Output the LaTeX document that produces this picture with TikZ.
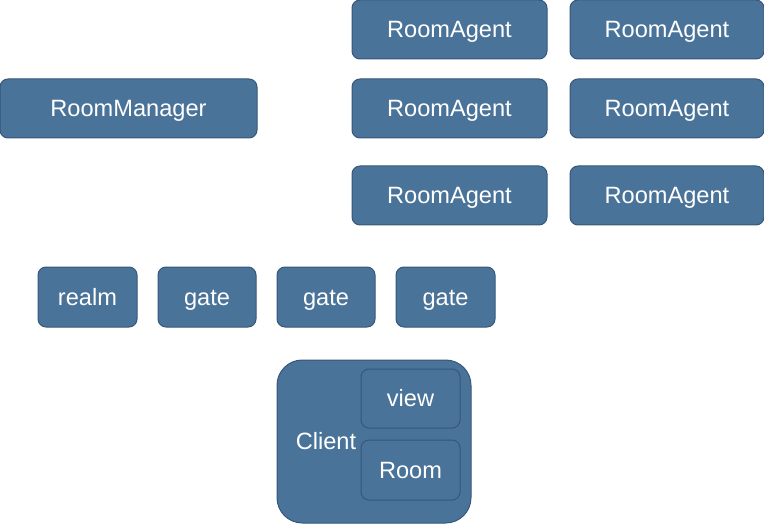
\documentclass[tikz,border=0pt]{standalone}
\usepackage{fontspec}
\setmainfont{Liberation Sans}
\definecolor{boxfill}{HTML}{4A7399}
\definecolor{boxline}{HTML}{36577A}
\begin{document}
\begin{tikzpicture}[x=0.75pt,y=-0.75pt,
  every node/.style={font=\fontsize{17.7}{20}\selectfont,text=white,text height=12.7pt,text depth=0pt},
  agentbox/.style={draw=boxline,line width=0.75pt,rounded corners=6pt,fill=boxfill,inner sep=0pt}]
% deployment layout
\useasboundingbox (0,0) rectangle (764,524);
\node[agentbox,minimum width=146.25pt,minimum height=44.25pt] (agent11) at (449.5,29.5) {RoomAgent};
\node[agentbox,minimum width=145.5pt,minimum height=44.25pt] (agent12) at (667,29.5) {RoomAgent};
\node[agentbox,minimum width=192.75pt,minimum height=44.25pt] (manager) at (128.5,108.5) {RoomManager};
\node[agentbox,minimum width=146.25pt,minimum height=44.25pt] (agent21) at (449.5,108.5) {RoomAgent};
\node[agentbox,minimum width=145.5pt,minimum height=44.25pt] (agent22) at (667,108.5) {RoomAgent};
\node[agentbox,minimum width=146.25pt,minimum height=44.25pt] (agent31) at (449.5,195.5) {RoomAgent};
\node[agentbox,minimum width=145.5pt,minimum height=44.25pt] (agent32) at (667,195.5) {RoomAgent};
\node[agentbox,minimum width=74.25pt,minimum height=45pt] (realm) at (87.5,297) {realm};
\node[agentbox,minimum width=73.5pt,minimum height=45pt] (gate1) at (207,297) {gate};
\node[agentbox,minimum width=73.5pt,minimum height=45pt] (gate2) at (326,297) {gate};
\node[agentbox,minimum width=74.25pt,minimum height=45pt] (gate3) at (445.5,297) {gate};
\node[agentbox,rounded corners=19pt,minimum width=145.5pt,minimum height=122.25pt] (client) at (374,441.5) {};
\node (clientlabel) at (326,441) {Client};
\node[agentbox,minimum width=74.25pt,minimum height=44.25pt] (view) at (410.5,398.5) {view};
\node[agentbox,minimum width=74.25pt,minimum height=45pt] (room) at (410.5,470) {Room};
\end{tikzpicture}
\end{document}
